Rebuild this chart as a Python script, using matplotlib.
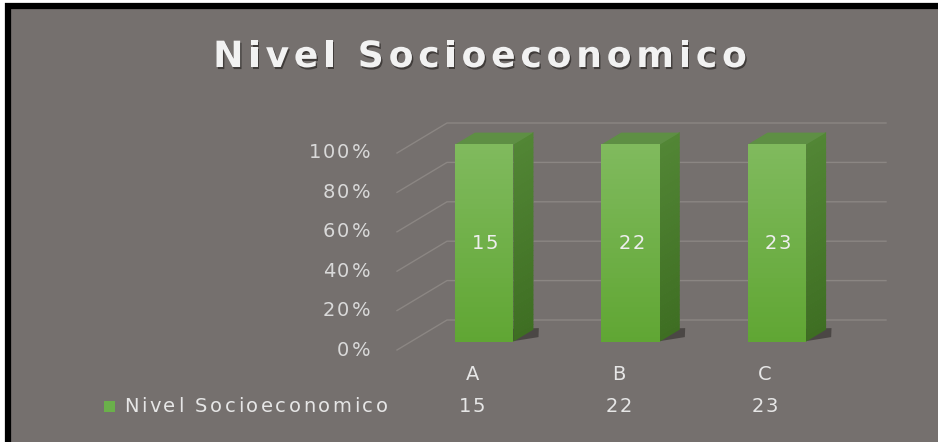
import matplotlib
matplotlib.use("Agg")
import matplotlib.pyplot as plt
import matplotlib.patheffects as pe
from matplotlib.patches import Polygon, Rectangle
from matplotlib.transforms import IdentityTransform
import numpy as np

# datos
categorias = ['A', 'B', 'C']
valores = [15, 22, 23]
serie = 'Nivel Socioeconomico'
titulo = 'Nivel Socioeconomico'
ticks = [0, 20, 40, 60, 80, 100]

W, H = 938, 442
plt.rcParams['font.family'] = ['DejaVu Sans']
fig = plt.figure(figsize=(W / 100, H / 100), dpi=100)
fig.patch.set_facecolor('white')
renderer = fig.canvas.get_renderer()

# fondo y marco (coordenadas en pixeles, y hacia abajo)
bg = fig.add_axes([0, 0, 1, 1])
bg.set_xlim(0, W)
bg.set_ylim(H, 0)
bg.axis('off')
bg.add_patch(Rectangle((8, 6), W, H, facecolor='#75706e', edgecolor='black', lw=4.5))

# eje principal: plano frontal, 0% -> y=350px, 100% -> y=153px
ax = fig.add_axes([397 / W, (H - 350) / H, 439 / W, 197 / H])
ax.set_xlim(-0.5, len(categorias) - 0.5)
ax.set_ylim(0, 100)
ax.axis('off')

# capa de textos encima de todo
capa = fig.add_axes([0, 0, 1, 1])
capa.set_xlim(0, W)
capa.set_ylim(H, 0)
capa.axis('off')
capa.patch.set_alpha(0)


def ancho_txt(s, **kw):
    t = capa.text(0, 0, s, **kw)
    w = t.get_window_extent(renderer).width
    t.remove()
    return w


def texto(x, y, s, track=0, ha='left', **kw):
    # texto con espaciado entre letras (el original esta estirado a lo ancho)
    total = ancho_txt(s, **kw) + track * (len(s) - 1)
    x0 = {'left': x, 'center': x - total / 2, 'right': x - total}[ha]
    for k, ch in enumerate(s):
        if ch == ' ':
            continue
        izq = ancho_txt(s[:k + 1], **kw) - ancho_txt(ch, **kw) if k else 0
        capa.text(x0 + izq + k * track, y, ch, ha='left', va='center', **kw)


DX, DY = 50, 30          # profundidad total en px
d1, d2 = 0.28, 0.68      # cara frontal / trasera de la barra
ancho = 0.40


def px(x, y, d):
    X, Y = ax.transData.transform((x, y))
    return (X + d * DX, Y + d * DY)


def poly(pts, color, z, alpha=1.0):
    ax.add_patch(Polygon(pts, closed=True, facecolor=color, edgecolor='none',
                         transform=IdentityTransform(), zorder=z, clip_on=False,
                         alpha=alpha))


grid_c = '#8b8683'
for t in ticks:
    a = px(-0.5, t, 0)
    b = px(-0.5, t, 1)
    c = px(len(categorias) - 0.5, t, 1)
    ax.plot([a[0], b[0], c[0]], [a[1], b[1], c[1]], color=grid_c, lw=1.0,
            transform=IdentityTransform(), zorder=1, clip_on=False)
    texto(a[0] - 27, H - a[1], f'{t}%', track=2.0, ha='right', fontsize=14, color='#d9d9d9')

# barras 100% apiladas
pct = np.array(valores) / np.array(valores) * 100
front_top = np.array([0x80, 0xba, 0x5e]) / 255
front_bot = np.array([0x60, 0xa6, 0x33]) / 255
side_top = np.array([0x52, 0x86, 0x35]) / 255
side_bot = np.array([0x3e, 0x6e, 0x22]) / 255
n = 40
for i, (v, h) in enumerate(zip(valores, pct)):
    x0, x1 = i - ancho / 2, i + ancho / 2
    # sombra
    poly([px(x1 - 0.02, 0, d1), px(x1 + 0.12, 0, d1 + 0.15),
          px(x1 + 0.02, 0, d2 + 0.05), px(x0 + 0.02, 0, d2)], '#3a3634', 2, 0.7)
    for k in range(n):
        y0, y1 = h * k / n, h * (k + 1) / n
        f = (k + 0.5) / n
        cf = front_bot + (front_top - front_bot) * f
        cs = side_bot + (side_top - side_bot) * f
        poly([px(x0, y0, d1), px(x1, y0, d1), px(x1, y1 + 0.3, d1), px(x0, y1 + 0.3, d1)], cf, 4)
        poly([px(x1, y0, d1), px(x1, y0, d2), px(x1, y1 + 0.3, d2), px(x1, y1 + 0.3, d1)], cs, 3)
    poly([px(x0, h, d1), px(x1, h, d1), px(x1, h, d2), px(x0, h, d2)], '#5e8f44', 3)
    cx, cy = px(i, h / 2, d1)
    texto(cx + 1, H - cy, str(v), track=1.5, ha='center', fontsize=14, color='#eeeeee')

# tabla de datos
for i, (c, v) in enumerate(zip(categorias, valores)):
    xc = ax.transData.transform((i, 0))[0]
    texto(xc + 2, 374, c, ha='center', fontsize=14, color='#e6e6e6')
    texto(xc + 2, 407, str(v), track=1.5, ha='center', fontsize=14, color='#e6e6e6')
capa.add_patch(Rectangle((104, 401), 11, 11, facecolor='#6ab04a', edgecolor='none'))
texto(124, 407, serie, track=2.6, fontsize=14, color='#e6e6e6')

# titulo
sombra = [pe.withSimplePatchShadow(offset=(1, -1.5), shadow_rgbFace='#2a2625', alpha=0.7)]
texto(480, 57, titulo, track=4.8, ha='center', fontsize=26, fontweight='semibold',
      color='#f2f2f2', path_effects=sombra)

fig.savefig('out.png', dpi=100, facecolor=fig.get_facecolor())
